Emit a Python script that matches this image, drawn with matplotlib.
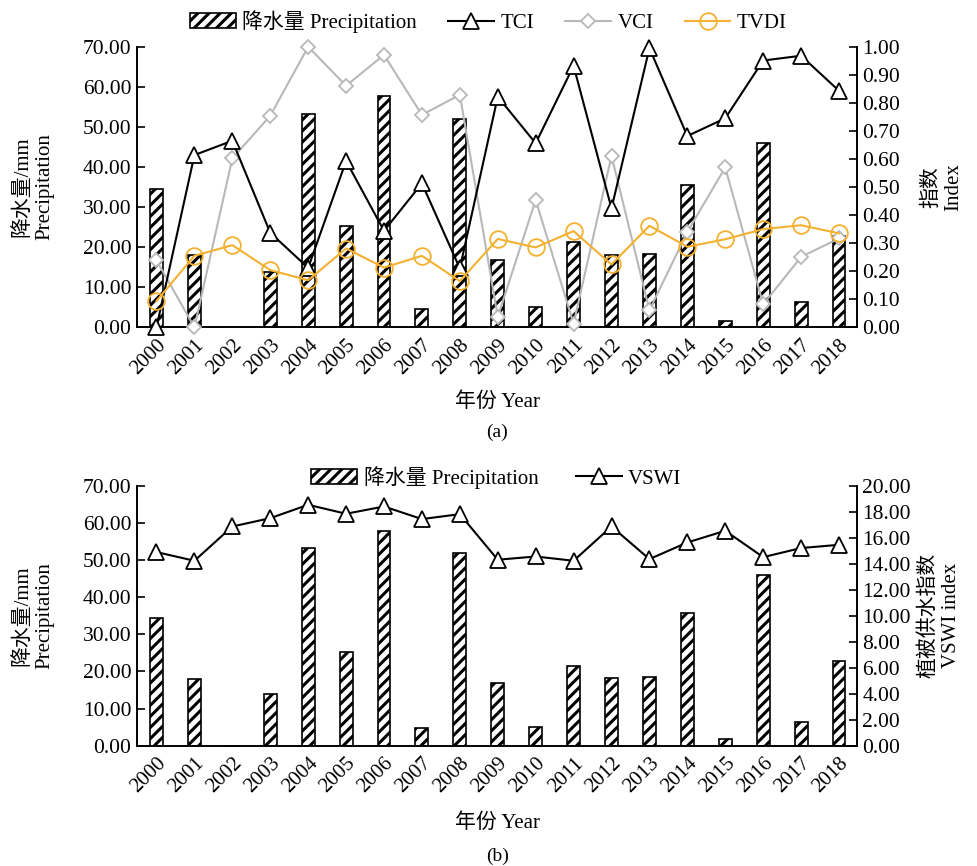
import matplotlib
matplotlib.use('Agg')
import matplotlib.pyplot as plt
import numpy as np

plt.rcParams['font.family'] = ['Liberation Serif', 'Noto Sans CJK SC']
plt.rcParams['hatch.linewidth'] = 2.2
plt.rcParams['axes.unicode_minus'] = False

years = [str(y) for y in range(2000, 2019)]
precip = [34.5, 18.0, 0.0, 13.8, 53.2, 25.2, 57.8, 4.7, 52.0, 16.9,
          5.0, 21.4, 18.1, 18.4, 35.6, 1.7, 46.0, 6.3, 22.9]
tci = [0.0, 0.614, 0.665, 0.337, 0.212, 0.593, 0.344, 0.513, 0.21, 0.822,
       0.656, 0.932, 0.424, 0.995, 0.682, 0.745, 0.951, 0.968, 0.843]
vci = [0.239, 0.0, 0.602, 0.754, 1.0, 0.861, 0.971, 0.757, 0.829, 0.037,
       0.454, 0.013, 0.611, 0.061, 0.34, 0.570, 0.082, 0.251, 0.317]
tvdi = [0.094, 0.255, 0.293, 0.204, 0.168, 0.281, 0.213, 0.255, 0.165, 0.315,
        0.285, 0.343, 0.224, 0.362, 0.287, 0.314, 0.350, 0.364, 0.335]
vswi = [14.9, 14.23, 16.87, 17.51, 18.54, 17.85, 18.41, 17.44, 17.82, 14.31,
        14.56, 14.23, 16.87, 14.36, 15.64, 16.54, 14.51, 15.21, 15.46]

x = np.arange(len(years))
fs = 15
orange = '#f4b030'
gray = '#b8b8b8'

fig = plt.figure(figsize=(9.77, 8.66), dpi=100)
ax1 = fig.add_axes([0.140, 0.622, 0.737, 0.324])
ax2 = fig.add_axes([0.140, 0.139, 0.737, 0.300])


def style(ax, axr, ymax_r, step_r):
    ax.set_xlim(-0.52, 18.47)
    ax.set_ylim(0, 70)
    ax.set_yticks(np.arange(0, 71, 10))
    ax.set_yticklabels([f'{v:.2f}' for v in np.arange(0, 71, 10)], fontsize=fs + 0.5)
    ax.set_xticks(x)
    ax.set_xticklabels(years, rotation=45, ha='right', rotation_mode='anchor', fontsize=fs)
    ax.tick_params(axis='x', length=0, pad=6)
    ax.tick_params(axis='y', direction='in', length=6, width=1.2, pad=4)
    for a in (ax, axr):
        a.spines['top'].set_visible(False)
        for s in ('left', 'right', 'bottom'):
            a.spines[s].set_linewidth(1.2)
    axr.set_ylim(0, ymax_r)
    rt = np.arange(0, ymax_r + 1e-9, step_r)
    axr.set_yticks(rt)
    axr.set_yticklabels([f'{v:.2f}' for v in rt], fontsize=fs + 0.5)
    axr.tick_params(axis='y', direction='in', length=6, width=1.2, pad=4)


def bars(ax):
    return ax.bar(x, precip, width=0.34, color='white', edgecolor='black',
                  hatch='///', linewidth=1.2, zorder=1)


# ---- (a)
b1 = bars(ax1)
ax1r = ax1.twinx()
style(ax1, ax1r, 1.0, 0.1)
l_tci, = ax1r.plot(x, tci, color='black', lw=1.5, marker='^', ms=12,
                   mfc='white', mec='black', mew=1.3, clip_on=False, zorder=4)
l_vci, = ax1r.plot(x, vci, color=gray, lw=1.5, marker='D', ms=7.5,
                   mfc='white', mec=gray, mew=1.3, clip_on=False, zorder=3)
l_tvdi, = ax1r.plot(x, tvdi, color=orange, lw=1.5, marker='o', ms=12,
                    mfc='none', mec=orange, mew=1.3, clip_on=False, zorder=5)
fig.legend([b1, l_tci, l_vci, l_tvdi],
           ['降水量 Precipitation', 'TCI', 'VCI', 'TVDI'],
           loc='center', bbox_to_anchor=(0.50, 0.975), ncol=4, frameon=False,
           fontsize=fs, handlelength=2.2, columnspacing=1.5, handletextpad=0.3)
fig.text(0.034, 0.784, '降水量/mm\nPrecipitation', rotation=90, ha='center',
         va='center', fontsize=fs, multialignment='center')
fig.text(0.965, 0.784, '指数\nIndex', rotation=90, ha='center',
         va='center', fontsize=fs, multialignment='center')
fig.text(0.509, 0.536, '年份 Year', ha='center', va='center', fontsize=fs)
fig.text(0.509, 0.501, '(a)', ha='center', va='center', fontsize=fs - 1)

# ---- (b)
b2 = bars(ax2)
ax2r = ax2.twinx()
style(ax2, ax2r, 20.0, 2.0)
l_vswi, = ax2r.plot(x, vswi, color='black', lw=1.5, marker='^', ms=12,
                    mfc='white', mec='black', mew=1.3, clip_on=False, zorder=4)
fig.legend([b2, l_vswi], ['降水量 Precipitation', 'VSWI'],
           loc='center', bbox_to_anchor=(0.508, 0.449), ncol=2, frameon=False,
           fontsize=fs, handlelength=2.2, columnspacing=1.8, handletextpad=0.3)
fig.text(0.034, 0.289, '降水量/mm\nPrecipitation', rotation=90, ha='center',
         va='center', fontsize=fs, multialignment='center')
fig.text(0.962, 0.289, '植被供水指数\nVSWI index', rotation=90, ha='center',
         va='center', fontsize=fs, multialignment='center')
fig.text(0.509, 0.050, '年份 Year', ha='center', va='center', fontsize=fs)
fig.text(0.509, 0.011, '(b)', ha='center', va='center', fontsize=fs - 1)

fig.savefig('out.png', dpi=100)
